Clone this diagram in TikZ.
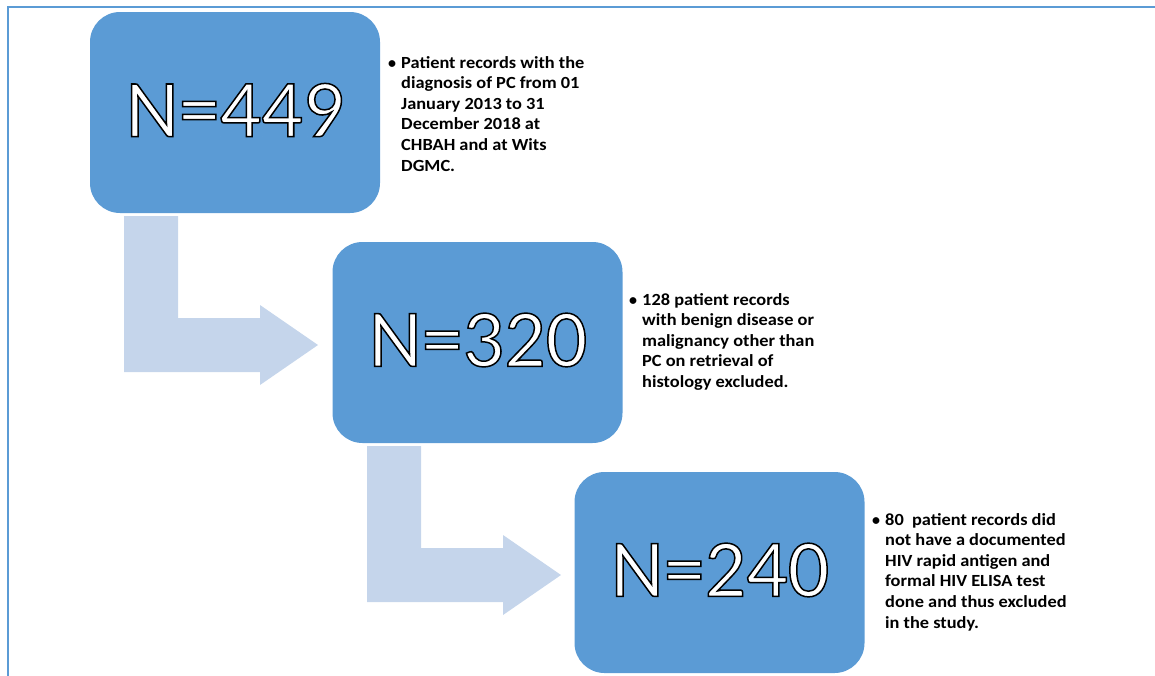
\documentclass[tikz,border=0pt]{standalone}
\usepackage{fontspec}
\setmainfont{Carlito}
\newfontfamily\bulfont[FakeStretch=1.08]{Carlito}
\definecolor{boxblue}{HTML}{5B9BD5}
\definecolor{arrowblue}{RGB}{197,213,235}
\newcommand{\bigN}[1]{{\fontsize{82}{82}\selectfont\color{white}\special{pdf:literal direct 2 Tr 1.5 w 0 G}#1\special{pdf:literal direct 0 Tr}}}
\newcommand{\bul}[1]{\parbox[t]{260pt}{\raggedright\bulfont\fontsize{17}{20.6}\selectfont\bfseries #1}}
\begin{document}
\begin{tikzpicture}[x=1pt,y=-1pt,
  nbox/.style={fill=boxblue,rounded corners=30pt,minimum width=290pt,minimum height=201pt,inner sep=0,draw=none},
  ntext/.style={inner sep=0,anchor=center},
  bullettext/.style={inner sep=0,anchor=base west},
  bulletdot/.style={inner sep=0,anchor=base,font=\fontsize{16}{16}\selectfont\bfseries},
  bendarrow/.style={fill=arrowblue,draw=none},
  frameline/.style={draw=boxblue,line width=2pt}]
\useasboundingbox (0,0) rectangle (1155,675);
\draw[frameline] (7.5,676) -- (7.5,6.5) -- (1156,6.5);
% boxes
\node[nbox] (b1) at (235,112.5) {};
\node[nbox] (b2) at (477.5,342.5) {};
\node[nbox] (b3) at (719.5,572.5) {};
\node[ntext] (t1) at (235,110) {\bigN{N=449}};
\node[ntext] (t2) at (478,340) {\bigN{N=320}};
\node[ntext] (t3) at (720,570) {\bigN{N=240}};
% bent arrows
\fill[bendarrow] (124,216) -- (178,216) -- (178,318) -- (260,318) -- (260,305) -- (318,345) -- (260,385) -- (260,372) -- (124,372) -- cycle;
\fill[bendarrow] (367,446) -- (421,446) -- (421,548) -- (503,548) -- (503,535) -- (561,575) -- (503,615) -- (503,602) -- (367,602) -- cycle;
% bullet texts
\node[bulletdot] (d1) at (392,68) {•};
\node[bullettext] (l1) at (401,68) {\bul{Patient records with the\\diagnosis of PC from 01\\January 2013 to 31\\December 2018 at\\CHBAH and at Wits\\DGMC.}};
\node[bulletdot] (d2) at (633,305) {•};
\node[bullettext] (l2) at (642,305) {\bul{128 patient records\\with benign disease or\\malignancy other than\\PC on retrieval of\\histology excluded.}};
\node[bulletdot] (d3) at (876,525) {•};
\node[bullettext] (l3) at (885,525) {\bul{80\ \ patient records did\\not have a documented\\HIV rapid antigen and\\formal HIV ELISA test\\done and thus excluded\\in the study.}};
\end{tikzpicture}
\end{document}
